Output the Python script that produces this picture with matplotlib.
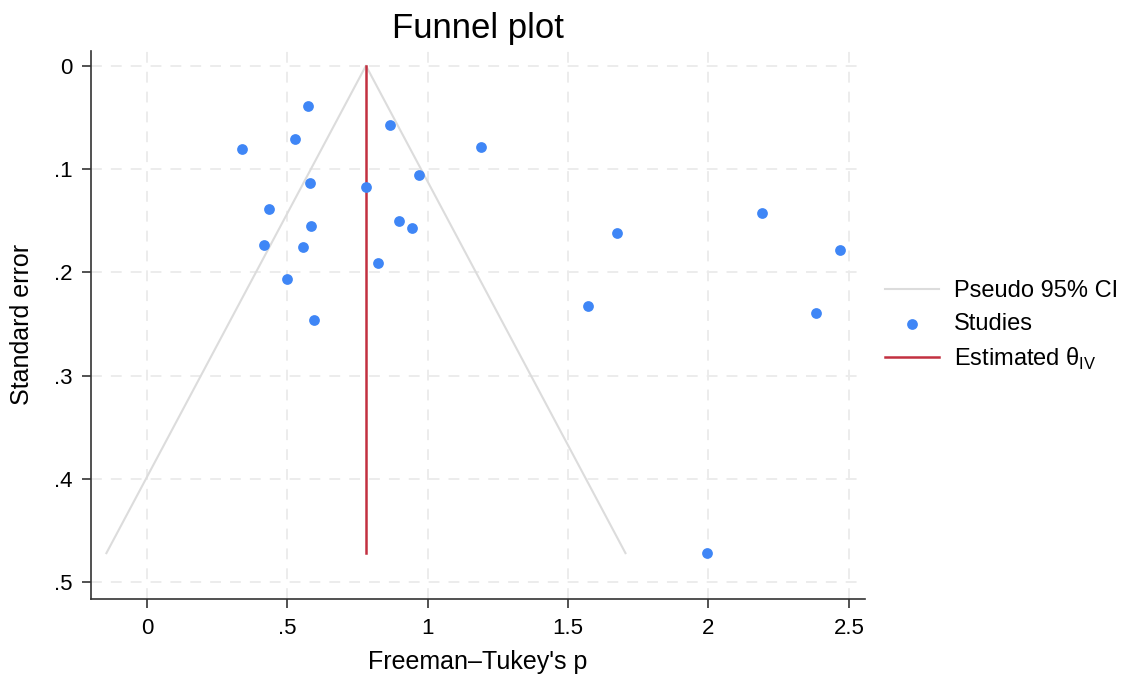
import numpy as np
import matplotlib
matplotlib.use('Agg')
import matplotlib.pyplot as plt

plt.rcParams['font.family'] = ['Liberation Sans', 'DejaVu Sans']
plt.rcParams['mathtext.fontset'] = 'custom'
plt.rcParams['mathtext.rm'] = 'Liberation Sans'

# データ
effect = [0.574, 0.866, 0.526, 0.340, 0.582, 0.779, 0.969, 0.436, 0.586, 0.899,
          0.945, 0.418, 0.556, 0.824, 0.499, 0.595, 1.190, 1.675, 2.190, 2.470,
          1.572, 2.382, 1.994]
se = [0.0389, 0.0574, 0.0712, 0.0803, 0.1131, 0.1176, 0.1060, 0.1383, 0.1553, 0.1502,
      0.1573, 0.1731, 0.1753, 0.1908, 0.2066, 0.2463, 0.0783, 0.1615, 0.1425, 0.1786,
      0.2327, 0.2392, 0.4716]
theta = 0.780
xticks = [0, 0.5, 1, 1.5, 2, 2.5]
xticklabels = ['0', '.5', '1', '1.5', '2', '2.5']
yticks = [0, 0.1, 0.2, 0.3, 0.4, 0.5]
yticklabels = ['0', '.1', '.2', '.3', '.4', '.5']

fig = plt.figure(figsize=(11.41, 6.78), dpi=100)
ax = fig.add_axes([0.0798, 0.1165, 0.6782, 0.8087])

# 疑似95%信頼区間
se_max = max(se)
ax.plot([theta - 1.96 * se_max, theta, theta + 1.96 * se_max], [se_max, 0, se_max],
        color='#dcdcdc', lw=1.5, label='Pseudo 95% CI', zorder=2)
ax.scatter(effect, se, s=60, color='#3f86f6', label='Studies', zorder=4, linewidths=0)
ax.plot([theta, theta], [0, se_max], color='#c23040', lw=1.8,
        label=r'Estimated θ$_{\mathrm{IV}}$', zorder=3)

ax.set_xlim(-0.199, 2.557)
ax.set_ylim(0.516, -0.0145)
ax.set_xticks(xticks)
ax.set_xticklabels(xticklabels)
ax.set_yticks(yticks)
ax.set_yticklabels(yticklabels)
ax.grid(True, color='#ebebeb', ls=(0, (6, 5)), lw=1.3, zorder=0)
ax.set_axisbelow(True)

for s in ['top', 'right']:
    ax.spines[s].set_visible(False)
for s in ['left', 'bottom']:
    ax.spines[s].set_color('#333333')
    ax.spines[s].set_linewidth(1.2)
ax.tick_params(direction='out', length=6.5, width=1.2, color='#333333', labelsize=16, pad=7)

ax.set_title('Funnel plot', fontsize=25, pad=9)
ax.set_xlabel("Freeman–Tukey's p", fontsize=18, labelpad=8)
ax.set_ylabel('Standard error', fontsize=18, labelpad=14)

ax.legend(loc='center left', bbox_to_anchor=(0.998, 0.498), frameon=False, fontsize=17,
          handlelength=2.3, handletextpad=0.65, labelspacing=0.45)

fig.savefig('out.png', dpi=100)
